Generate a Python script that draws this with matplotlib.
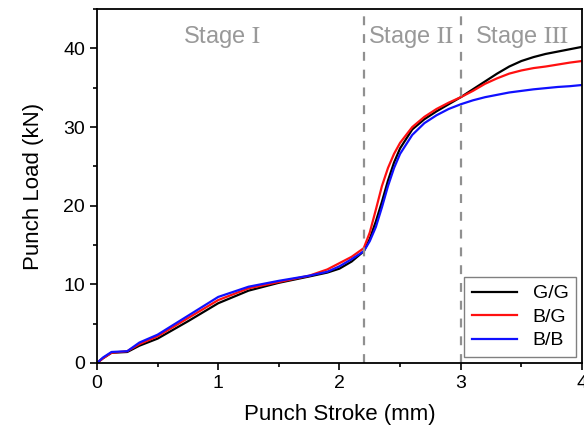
import matplotlib
matplotlib.use('Agg')
import matplotlib.pyplot as plt
from matplotlib.ticker import MultipleLocator

plt.rcParams['font.family'] = ['Liberation Sans', 'DejaVu Sans']
plt.rcParams['mathtext.fontset'] = 'stix'

# Punch stroke (mm), shared by all curves
stroke = [0, 0.05, 0.12, 0.25, 0.35, 0.5, 0.75, 1.0, 1.25, 1.5, 1.75, 1.9, 2.0,
          2.1, 2.2, 2.25, 2.3, 2.35, 2.4, 2.45, 2.5, 2.6, 2.7, 2.8, 2.9, 3.0,
          3.1, 3.2, 3.3, 3.4, 3.5, 3.6, 3.7, 3.8, 3.9, 4.0]

# Punch load (kN)
load_gg = [0, 0.6, 1.3, 1.4, 2.2, 3.1, 5.3, 7.6, 9.2, 10.2, 11.0, 11.5, 12.0,
           12.9, 14.2, 15.8, 18.0, 20.5, 23.2, 25.5, 27.3, 29.7, 31.0, 32.0, 32.9, 33.8,
           34.8, 35.8, 36.8, 37.7, 38.4, 38.9, 39.3, 39.6, 39.9, 40.2]
load_bg = [0, 0.6, 1.3, 1.5, 2.4, 3.4, 5.7, 8.0, 9.5, 10.3, 11.1, 11.9, 12.7,
           13.5, 14.6, 16.6, 19.5, 22.5, 24.8, 26.6, 28.0, 30.0, 31.3, 32.3, 33.1, 33.8,
           34.6, 35.5, 36.2, 36.8, 37.2, 37.5, 37.7, 37.95, 38.2, 38.4]
load_bb = [0, 0.7, 1.4, 1.5, 2.6, 3.6, 6.0, 8.4, 9.7, 10.45, 11.1, 11.6, 12.3,
           13.2, 14.2, 15.5, 17.3, 19.8, 22.5, 24.8, 26.6, 29.0, 30.5, 31.5, 32.3, 32.9,
           33.4, 33.8, 34.1, 34.4, 34.6, 34.8, 34.95, 35.1, 35.2, 35.35]

stage_bounds = [2.2, 3.0]
stage_labels = [r'Stage $\mathrm{I}$', r'Stage $\mathrm{II}$', r'Stage $\mathrm{III}$']
stage_x = [1.03, 2.59, 3.5]

fig = plt.figure(figsize=(5.84, 4.34), dpi=100)
ax = fig.add_axes([0.166, 0.1636, 0.8306, 0.8154])

ax.plot(stroke, load_gg, color='black', lw=1.6, label='G/G')
ax.plot(stroke, load_bg, color='#ff1010', lw=1.6, label='B/G')
ax.plot(stroke, load_bb, color='#1010ff', lw=1.6, label='B/B')

for xb in stage_bounds:
    ax.axvline(xb, color='#909090', lw=1.6, ls=(0, (4, 4)))

for xs, lab in zip(stage_x, stage_labels):
    ax.text(xs, 41.5, lab, color='#999999', fontsize=17, ha='center', va='center')

ax.set_xlim(0, 4)
ax.set_ylim(0, 45)
ax.xaxis.set_major_locator(MultipleLocator(1))
ax.xaxis.set_minor_locator(MultipleLocator(0.5))
ax.yaxis.set_major_locator(MultipleLocator(10))
ax.yaxis.set_minor_locator(MultipleLocator(5))
ax.tick_params(which='major', direction='out', length=5, width=1.2, labelsize=14)
ax.tick_params(which='minor', direction='out', length=3, width=1.2)
for sp in ax.spines.values():
    sp.set_linewidth(1.3)

ax.set_xlabel('Punch Stroke (mm)', fontsize=16, labelpad=9)
ax.set_ylabel('Punch Load (kN)', fontsize=16, labelpad=14)

leg = ax.legend(loc='lower right', fontsize=14, fancybox=False, edgecolor='#606060',
                handlelength=2.3, borderaxespad=0.3, labelspacing=0.3,
                borderpad=0.4)
leg.get_frame().set_linewidth(1.0)

fig.savefig('out.png', dpi=100)
